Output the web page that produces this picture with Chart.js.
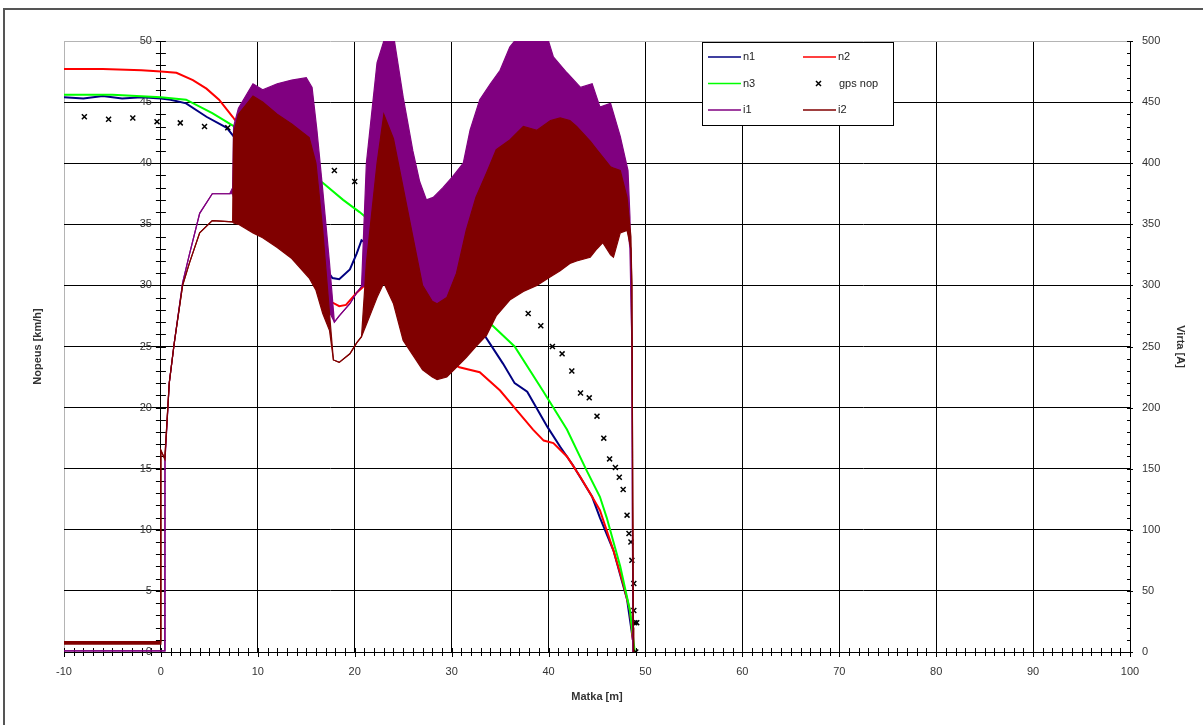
<!DOCTYPE html>
<html lang="fi">
<head>
<meta charset="UTF-8">
<title>Nopeus ja virta matkan funktiona</title>
<script src="https://cdn.jsdelivr.net/npm/chart.js"></script>
<style>
    body { margin: 0; background: #fff; }
    #frame {
        position: absolute; left: 3px; top: 8px;
        width: 1220px; height: 740px;
        border: 2px solid #555;
    }
    #plot { position: absolute; left: 0; top: 0; }
</style>
</head>
<body>
<div id="frame"></div>
<canvas id="plot" width="1203" height="725"></canvas>
<script>
// nopeudet [km/h] matkan [m] funktiona
const n1X = [-10, -8, -6, -4, -2, 0, 1, 2.6, 4.7, 6.8, 8.1, 10, 13, 16, 17.7, 18.4, 19.5, 20.2, 20.7, 23, 25, 27.3, 30, 33.4, 35.3, 36.5, 37.8, 39.9, 41.2, 42.5, 44.5, 45.3, 46.7, 48.1, 48.7];
const n1Y = [45.4, 45.3, 45.5, 45.3, 45.4, 45.3, 45.2, 44.9, 43.8, 42.9, 41.6, 40, 36.5, 32.5, 30.6, 30.5, 31.3, 32.6, 33.7, 32.5, 31, 29.7, 28.6, 25.9, 23.6, 22.0, 21.3, 18.4, 16.8, 15.3, 12.7, 11.0, 8.3, 4.3, 1.0];

const n2X = [-10, -6, -2, 0, 1.6, 3.3, 4.7, 6.0, 7.4, 8.4, 12, 15, 17, 17.7, 18.4, 19.1, 20.2, 20.9, 23.3, 24.4, 25.4, 28, 30.8, 32.9, 35, 36.7, 38.4, 39.5, 40.5, 41.9, 43.3, 44.5, 45.3, 46.7, 47.7, 48.4, 48.7];
const n2Y = [47.7, 47.7, 47.6, 47.5, 47.4, 46.8, 46.1, 45.2, 43.8, 42.7, 38, 33, 29.2, 28.6, 28.3, 28.4, 29.4, 29.9, 30.2, 28.2, 26.6, 24.5, 23.3, 22.9, 21.4, 19.8, 18.2, 17.3, 17.1, 16.0, 14.3, 12.7, 11.6, 8.3, 5.6, 3.4, 1.0];

const n3X = [-10, -5, 0, 2.6, 5.3, 8.4, 12, 15, 16.7, 18.8, 20.5, 25, 30, 34.1, 36.5, 39.4, 41.9, 43.9, 45.3, 46, 47.4, 48.4, 48.9];
const n3Y = [45.6, 45.6, 45.4, 45.2, 44.1, 42.6, 40.5, 39.3, 38.4, 37.0, 36.0, 33, 30, 26.8, 25.0, 21.4, 18.2, 14.9, 12.7, 11.0, 7.0, 3.4, 0];

const gpsX = [-7.9, -5.4, -2.9, -0.4, 2.0, 4.5, 6.9, 17.9, 20.0, 37.9, 39.2, 40.4, 41.4, 42.4, 43.3, 44.2, 45.0, 45.7, 46.3, 46.9, 47.3, 47.7, 48.1, 48.3, 48.5, 48.6, 48.8, 48.8, 48.9, 49.1, 49.0];
const gpsY = [43.8, 43.6, 43.7, 43.4, 43.3, 43.0, 42.9, 39.4, 38.5, 27.7, 26.7, 25.0, 24.4, 23.0, 21.2, 20.8, 19.3, 17.5, 15.8, 15.1, 14.3, 13.3, 11.2, 9.7, 9.0, 7.5, 5.6, 3.4, 2.4, 2.4, 0];

// virrat [A]: värähtelevän signaalin ylä- ja alaverhokäyrä
const i1X = [-10, 0.35, 0.42, 0.86, 1.38, 2.24, 2.93, 4.0, 5.3, 7.1, 7.4, 7.5, 8.0, 9.5, 10.5, 12, 13.5, 15, 15.6, 16.1, 16.7, 17.4, 17.9, 18.4, 19.5, 20.2, 20.7, 21.2, 22.3, 23.2, 24.0, 25.0, 26.0, 26.7, 27.4, 28.1, 29.1, 30.1, 31.2, 31.9, 32.9, 34.0, 35.0, 36.0, 37.0, 38.5, 39.8, 40.5, 41.9, 43.3, 44.5, 45.3, 46.4, 47.4, 48.2, 48.4, 48.6, 48.7];
const i1Hi = [1, 1, 157, 220, 253, 302, 325, 359, 375, 375, 380, 430, 445, 465, 460, 465, 468, 470, 462, 427, 378, 318, 270, 275, 285, 294, 299, 400, 482, 505, 505, 454, 410, 385, 370, 372, 380, 389, 400, 427, 452, 465, 476, 495, 505, 505, 505, 487, 474, 462, 465, 446, 449, 422, 394, 356, 250, 0];
const i1Lo = [1, 1, 157, 220, 253, 302, 325, 359, 375, 375, 375, 372, 360, 350, 345, 335, 325, 315, 310, 300, 290, 278, 270, 275, 285, 294, 299, 300, 300, 305, 300, 290, 285, 283, 282, 280, 280, 282, 290, 300, 310, 320, 330, 340, 350, 355, 360, 360, 360, 360, 360, 360, 360, 355, 345, 330, 250, 0];

const i2X = [-10, -0.05, 0.0, 0.4, 0.86, 1.38, 2.24, 2.93, 4.0, 5.3, 7.4, 7.5, 8.0, 9.5, 10.5, 12, 13.5, 15.3, 16.0, 16.7, 17.4, 17.8, 18.4, 19.5, 20.2, 20.7, 21.2, 22.3, 23.0, 24.0, 25.0, 26.0, 27.0, 28.0, 28.5, 29.5, 30.5, 31.5, 32.5, 33.6, 34.6, 36.0, 37.4, 38.8, 40.2, 41.2, 42.2, 42.9, 44.3, 45.0, 45.6, 46.4, 46.7, 47.4, 48.1, 48.5, 48.6, 48.75, 48.8];
const i2Hi = [8.5, 8.5, 165, 158, 220, 253, 300, 318, 343, 353, 352, 425, 440, 455, 450, 440, 432, 421, 400, 345, 277, 239, 237, 244, 253, 258, 318, 400, 440, 420, 380, 340, 300, 287, 285, 290, 310, 345, 372, 392, 411, 419, 430, 427, 435, 437, 435, 430, 418, 411, 405, 397, 396, 394, 372, 340, 300, 20, 0];
const i2Lo = [6.5, 6.5, 165, 158, 220, 253, 300, 318, 343, 353, 352, 351, 350, 343, 339, 331, 322, 306, 296, 277, 263, 239, 237, 244, 253, 258, 268, 290, 302, 285, 255, 243, 231, 225, 223, 225, 233, 241, 250, 259, 275, 288, 295, 300, 307, 312, 318, 320, 323, 330, 335, 325, 323, 343, 345, 330, 300, 0, 0];

const pts = (xs, ys) => xs.map((x, i) => ({ x: x, y: ys[i] }));

Chart.defaults.font.family = "'Liberation Sans', Arial, sans-serif";
Chart.defaults.font.size = 11;
Chart.defaults.color = '#333';

const line = (label, xs, ys, color, width, order, axis) => ({
    label: label, data: pts(xs, ys), borderColor: color, backgroundColor: color,
    borderWidth: width, pointRadius: 0, tension: 0, fill: false, order: order, yAxisID: axis
});

const datasets = [
    line('n1', n1X, n1Y, '#000080', 2, 7, 'y'),
    line('n2', n2X, n2Y, '#ff0000', 2, 6, 'y'),
    line('n3', n3X, n3Y, '#00ff00', 2, 5, 'y'),
    {
        label: 'gps nop', data: pts(gpsX, gpsY), showLine: false, yAxisID: 'y', order: 4,
        pointStyle: 'crossRot', pointRadius: 3.5, borderColor: '#000', borderWidth: 1.5
    },
    line('i1', i1X, i1Lo, '#800080', 1.2, 3, 'yA'),
    Object.assign(line('', i1X, i1Hi, '#800080', 1.2, 2, 'yA'), { fill: { target: 4 } }),
    line('i2', i2X, i2Lo, '#800000', 1.2, 1, 'yA'),
    Object.assign(line('', i2X, i2Hi, '#800000', 1.2, 0, 'yA'), { fill: { target: 6 } })
];

// akselien jakoviivat molemmin puolin akselia ja nopeusakselin luvut kohdassa x = 0
const tickMarks = {
    id: 'tickMarks',
    beforeDatasetsDraw(chart) {
        const { ctx, scales: { x, y, yA } } = chart;
        const x0 = x.getPixelForValue(0);
        const yb = y.getPixelForValue(0);
        ctx.save();
        ctx.strokeStyle = '#000';
        ctx.lineWidth = 1;
        ctx.beginPath();
        for (let v = -10; v <= 100; v++) {
            const px = Math.round(x.getPixelForValue(v)) + 0.5;
            const len = v % 10 === 0 ? 5 : 4;
            ctx.moveTo(px, yb - 4); ctx.lineTo(px, yb + len);
        }
        for (let v = 0; v <= 50; v++) {
            const py = Math.round(y.getPixelForValue(v)) + 0.5;
            ctx.moveTo(x0 - 5, py); ctx.lineTo(x0 + 5, py);
        }
        const xr = x.getPixelForValue(100);
        for (let v = 0; v <= 500; v += 10) {
            const py = Math.round(yA.getPixelForValue(v)) + 0.5;
            ctx.moveTo(xr - 3, py); ctx.lineTo(xr + (v % 50 === 0 ? 3 : 0), py);
        }
        ctx.stroke();
        ctx.fillStyle = '#333';
        ctx.font = "11px 'Liberation Sans', Arial, sans-serif";
        ctx.textAlign = 'right';
        ctx.textBaseline = 'middle';
        y.ticks.forEach(t => {
            ctx.fillText(String(t.value), x0 - 9, y.getPixelForValue(t.value));
        });
        ctx.restore();
    }
};

// selite kahdessa sarakkeessa laatikon sisällä
const legendRows = [[0, 1], [2, 3], [4, 6]];
const boxLegend = {
    id: 'boxLegend',
    afterDraw(chart) {
        const ctx = chart.ctx;
        const box = { left: 702, top: 42, right: 893, bottom: 125 };
        const cols = [708, 803];
        ctx.save();
        ctx.fillStyle = '#fff';
        ctx.fillRect(box.left, box.top, box.right - box.left, box.bottom - box.top);
        ctx.strokeStyle = '#000';
        ctx.lineWidth = 1;
        ctx.strokeRect(box.left + 0.5, box.top + 0.5, box.right - box.left, box.bottom - box.top);
        ctx.font = "11px 'Liberation Sans', Arial, sans-serif";
        ctx.textBaseline = 'middle';
        legendRows.forEach((row, r) => {
            const cy = 57 + r * 26.5;
            row.forEach((di, c) => {
                const ds = chart.data.datasets[di];
                const cx = cols[c];
                ctx.strokeStyle = ds.borderColor;
                ctx.fillStyle = '#222';
                if (ds.showLine === false) {
                    ctx.lineWidth = 1.5;
                    ctx.beginPath();
                    ctx.moveTo(cx + 13, cy - 2.5); ctx.lineTo(cx + 18, cy + 2.5);
                    ctx.moveTo(cx + 18, cy - 2.5); ctx.lineTo(cx + 13, cy + 2.5);
                    ctx.stroke();
                    ctx.fillText(ds.label, cx + 36, cy);
                } else {
                    ctx.lineWidth = 1.5;
                    ctx.beginPath();
                    ctx.moveTo(cx, cy); ctx.lineTo(cx + 33, cy);
                    ctx.stroke();
                    ctx.fillText(ds.label, cx + 35, cy);
                }
            });
        });
        ctx.restore();
    }
};

new Chart(document.getElementById('plot'), {
    type: 'line',
    data: { datasets: datasets },
    plugins: [tickMarks, boxLegend],
    options: {
        responsive: false,
        animation: false,
        layout: { padding: { top: 41 } },
        plugins: { legend: { display: false }, tooltip: { enabled: false } },
        scales: {
            x: {
                type: 'linear', position: 'bottom', min: -10, max: 100,
                ticks: { stepSize: 10, padding: 13 },
                grid: { color: c => c.tick.value === -10 ? '#b4b4b4' : '#000', drawTicks: false },
                border: { display: true, color: '#000' },
                title: { display: true, text: 'Matka [m]', font: { weight: 'bold' }, padding: { top: 0, bottom: 21 } },
                afterFit: s => { s.height = 73; }
            },
            y: {
                position: 'left', min: 0, max: 50,
                ticks: { display: false, stepSize: 5 },
                grid: { color: c => c.tick.value === 50 ? '#b4b4b4' : '#000', drawTicks: false },
                border: { display: false },
                title: { display: true, text: 'Nopeus [km/h]', font: { weight: 'bold' }, padding: { top: 31, bottom: 0 } },
                afterFit: s => { s.width = 64; }
            },
            yAt0: {
                axis: 'y', position: { x: 0 }, min: 0, max: 50,
                ticks: { display: false, stepSize: 5 },
                grid: { drawOnChartArea: false, drawTicks: false },
                border: { display: true, color: '#000' }
            },
            yA: {
                position: 'right', min: 0, max: 500,
                ticks: { stepSize: 50, padding: 12 },
                grid: { display: false, drawTicks: false },
                border: { display: true, color: '#000' },
                title: { display: true, text: 'Virta [A]', font: { weight: 'bold' }, padding: { top: 16, bottom: 0 } },
                afterFit: s => { s.width = 73; }
            }
        }
    }
});
</script>
</body>
</html>
